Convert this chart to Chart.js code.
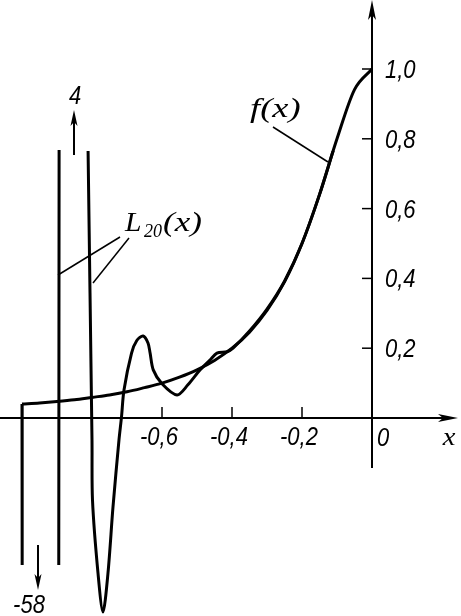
<!DOCTYPE html>
<html><head><meta charset="utf-8">
<script src="https://cdn.jsdelivr.net/npm/chart.js@4"></script>
<style>html,body{margin:0;padding:0;background:#fff}#wrap{width:461px;height:616px;position:relative}</style>
</head><body><div id="wrap"><canvas id="c"></canvas></div>
<script>
// f(x)
const fX = [-1, -0.95, -0.9, -0.85, -0.8, -0.75, -0.7, -0.65, -0.6, -0.55, -0.5, -0.45, -0.4, -0.35, -0.3, -0.25, -0.2, -0.15, -0.1, -0.05, 0];
const fY = [0.040, 0.043, 0.047, 0.052, 0.059, 0.066, 0.075, 0.087, 0.100, 0.117, 0.138, 0.165, 0.200, 0.246, 0.308, 0.390, 0.500, 0.640, 0.800, 0.941, 1.0];
// L20(x), left part (goes down to -58 and up to 4)
const l20aX = [-1, -0.9995, -0.947, -0.895, -0.894, -0.852];
const l20aY = [0.040, -0.45, -58, -0.45, 0.77, 4];
// L20(x), rest
const l20bX = [-0.852, -0.8114, -0.8000, -0.7986, -0.7829, -0.7686, -0.7543, -0.7400, -0.7229, -0.7157, -0.7086, -0.687, -0.672, -0.654, -0.640, -0.634, -0.625, -0.600, -0.557, -0.526, -0.491, -0.463, -0.443, -0.414, -0.397, -0.35, -0.30, -0.25, -0.20, -0.15, -0.10, -0.05, 0];
const l20bY = [4, 0.78, -0.063, -0.235, -0.444, -0.556, -0.444, -0.255, -0.063, 0.003, 0.08, 0.186, 0.222, 0.235, 0.215, 0.186, 0.138, 0.098, 0.066, 0.095, 0.138, 0.166, 0.186, 0.190, 0.200, 0.249, 0.312, 0.392, 0.500, 0.640, 0.800, 0.941, 1.0];
const xTickValues = [-0.6, -0.4, -0.2];
const xTickLabels = ["-0,6", "-0,4", "-0,2"];
const yTickValues = [0.2, 0.4, 0.6, 0.8, 1.0];
const yTickLabels = ["0,2", "0,4", "0,6", "0,8", "1,0"];

const pts = (xs, ys) => xs.map((x, i) => ({x, y: ys[i]}));

function txt(ctx, s, x, y, font, align, sx) {
  ctx.save(); ctx.translate(x, y); ctx.scale(sx || 1, 1);
  ctx.font = font; ctx.textAlign = align || 'left'; ctx.textBaseline = 'middle';
  ctx.fillStyle = '#000'; ctx.fillText(s, 0, 0); ctx.restore();
}
function line(ctx, x1, y1, x2, y2, w) {
  ctx.save(); ctx.strokeStyle = '#000'; ctx.lineWidth = w; ctx.beginPath();
  ctx.moveTo(x1, y1); ctx.lineTo(x2, y2); ctx.stroke(); ctx.restore();
}
function arrowHead(ctx, tx, ty, dir, len, half) {
  ctx.save(); ctx.fillStyle = '#000'; ctx.beginPath();
  if (dir === 'right') { ctx.moveTo(tx, ty); ctx.lineTo(tx - len, ty - half); ctx.lineTo(tx - len*0.75, ty); ctx.lineTo(tx - len, ty + half); }
  if (dir === 'up') { ctx.moveTo(tx, ty); ctx.lineTo(tx - half, ty + len); ctx.lineTo(tx, ty + len*0.75); ctx.lineTo(tx + half, ty + len); }
  if (dir === 'down') { ctx.moveTo(tx, ty); ctx.lineTo(tx - half, ty - len); ctx.lineTo(tx, ty - len*0.75); ctx.lineTo(tx + half, ty - len); }
  ctx.closePath(); ctx.fill(); ctx.restore();
}

const NUM = 'italic 25px "Liberation Sans"';
const SERIF = 'italic 26px "Liberation Serif"';

const deco = {
  id: 'deco',
  beforeDraw(chart) {
    const c = chart.ctx; c.save(); c.fillStyle = '#fff'; c.fillRect(0, 0, chart.width, chart.height); c.restore();
  },
  beforeDatasetsDraw(chart) {
    const c = chart.ctx, xs = chart.scales.x, ys = chart.scales.y;
    const x0 = xs.getPixelForValue(0), y0 = ys.getPixelForValue(0);
    line(c, 0, y0, 450, y0, 2);
    arrowHead(c, 458, y0, 'right', 20, 4);
    line(c, x0, 468, x0, 12, 2);
    arrowHead(c, x0, 0, 'up', 20, 4);
    xTickValues.forEach(v => { const p = xs.getPixelForValue(v); line(c, p, y0, p, y0 - 11, 1.5); });
    yTickValues.forEach(v => { const p = ys.getPixelForValue(v); line(c, x0, p, x0 - 10, p, 1.5); });
  },
  afterDraw(chart) {
    const c = chart.ctx, xs = chart.scales.x, ys = chart.scales.y;
    const x0 = xs.getPixelForValue(0), y0 = ys.getPixelForValue(0);
    xTickValues.forEach((v, i) => txt(c, xTickLabels[i], xs.getPixelForValue(v) - 3, y0 + 20, NUM, 'center', 0.88));
    yTickValues.forEach((v, i) => txt(c, yTickLabels[i], x0 + 13, ys.getPixelForValue(v) + 2, NUM, 'left', 0.88));
    txt(c, '0', x0 + 5, y0 + 21, NUM, 'left', 0.88);
    txt(c, 'x', 449, y0 + 20, SERIF, 'center', 1.1);
    txt(c, 'f(x)', 250, 110, 'italic 27px "Liberation Serif"', 'left', 1.35);
    line(c, 273, 127, 328, 162, 1.5);
    txt(c, 'L', 125, 224, 'italic 27px "Liberation Serif"', 'left', 1.1);
    txt(c, '20', 144, 232, 'italic 18px "Liberation Serif"', 'left', 1.0);
    txt(c, '(x)', 163, 224, 'italic 27px "Liberation Serif"', 'left', 1.3);
    line(c, 120, 237, 58, 275, 1.5);
    line(c, 129, 238, 93, 283, 1.5);
    line(c, 74, 155, 74, 120, 2);
    arrowHead(c, 74, 110, 'up', 16, 3.5);
    txt(c, '4', 75, 97, NUM, 'center', 0.88);
    line(c, 38, 545, 38, 580, 2);
    arrowHead(c, 38, 590, 'down', 16, 3.5);
    txt(c, '-58', 29, 606, NUM, 'center', 0.88);
  }
};

new Chart(document.getElementById('c'), {
  type: 'line',
  data: {
    datasets: [
      { label: 'f(x)', data: pts(fX, fY), borderColor: '#000', borderWidth: 3, pointRadius: 0, cubicInterpolationMode: 'monotone', clip: 0 },
      { label: 'L20a', data: pts(l20aX, l20aY), borderColor: '#000', borderWidth: 3, pointRadius: 0, tension: 0, clip: {left: 0, top: -150, right: 0, bottom: -51} },
      { label: 'L20b', data: pts(l20bX, l20bY), borderColor: '#000', borderWidth: 3, pointRadius: 0, tension: 0.3, clip: {left: 0, top: -151, right: 0, bottom: 0} }
    ]
  },
  options: {
    responsive: true, maintainAspectRatio: false, animation: false,
    layout: { padding: 0, autoPadding: false },
    plugins: { legend: { display: false }, tooltip: { enabled: false } },
    events: [],
    scales: {
      x: { type: 'linear', display: false, min: -372/350, max: (461-372)/350 },
      y: { type: 'linear', display: false, min: (418-616)/349, max: 418/349 }
    }
  },
  plugins: [deco]
});
</script>
</body></html>
